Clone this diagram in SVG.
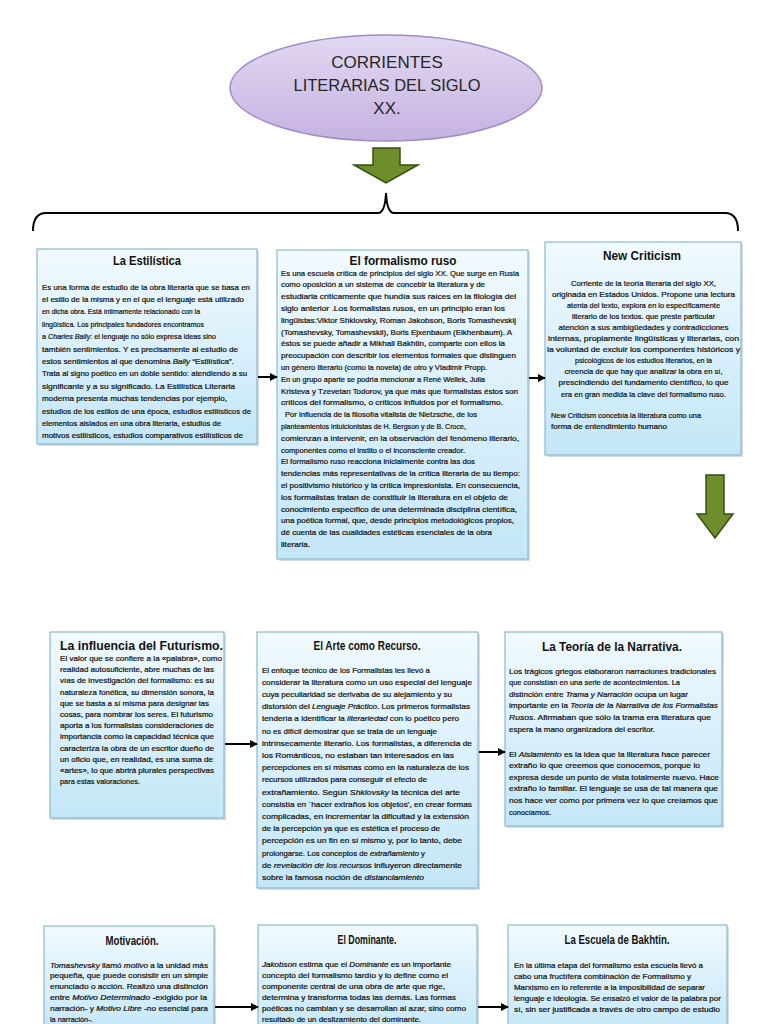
<svg xmlns="http://www.w3.org/2000/svg" width="768" height="1024" viewBox="0 0 768 1024">
<defs>
<linearGradient id="bg" x1="0" y1="0" x2="0" y2="1">
<stop offset="0" stop-color="#f1fafe"/>
<stop offset="1" stop-color="#c3e6f7"/>
</linearGradient>
<linearGradient id="eg" x1="0" y1="0" x2="0" y2="1">
<stop offset="0" stop-color="#e2d8f2"/>
<stop offset="1" stop-color="#c5b2e0"/>
</linearGradient>
<marker id="ah" viewBox="0 0 10 10" refX="9" refY="5" markerWidth="4" markerHeight="4" orient="auto">
<path d="M0,0 L10,5 L0,10 z" fill="#000"/>
</marker>
</defs>
<style>
.box{fill:url(#bg);stroke:#8db9cf;stroke-width:1.2}
.sh{fill:#b9c6cc;opacity:0.6}
.t{font-family:"Liberation Sans",Arial,sans-serif;font-weight:bold;fill:#111;font-size:12px}
.tm{text-anchor:middle}
.b{font-family:"Liberation Sans",Arial,sans-serif;font-size:7.3px;fill:#111;stroke:#111;stroke-width:0.2}
.c{text-anchor:middle}
.i{font-style:italic}
.con{stroke:#000;stroke-width:2;fill:none;marker-end:url(#ah)}
.ga{fill:#6e8e2b;stroke:#3a4c14;stroke-width:1.5}
.et{font-family:"Liberation Sans",Arial,sans-serif;font-size:17px;fill:#262626;text-anchor:middle}
</style>
<rect width="768" height="1024" fill="#fff"/>

<g id="title">
<ellipse cx="386" cy="88" rx="156" ry="53" fill="url(#eg)" stroke="#9f8cc6" stroke-width="1.5"/>
<text class="et" x="387" y="68">CORRIENTES</text>
<text class="et" x="387" y="91" textLength="187" lengthAdjust="spacingAndGlyphs">LITERARIAS DEL SIGLO</text>
<text class="et" x="387" y="114">XX.</text>
</g>

<g id="arrow-top">
<path class="ga" d="M373,148 L400,148 L400,165 L418,165 L386,183 L354,165 L373,165 z"/>
</g>

<g id="brace">
<path d="M33,231 Q33,213 46,213 L378,213 Q385,213 386,193 Q387,213 394,213 L725,213 Q738,213 738,231" fill="none" stroke="#000" stroke-width="2"/>
</g>

<g id="estilistica">
<rect class="sh" x="39" y="251" width="220" height="195"/>
<rect class="box" x="37" y="249" width="220" height="195"/>
<text class="t tm" x="147" y="265" textLength="68" lengthAdjust="spacingAndGlyphs">La Estilística</text>
<text class="b" x="42" y="289.5" textLength="208" lengthAdjust="spacingAndGlyphs">Es una forma de estudio de la obra literaria que se basa en</text>
<text class="b" x="42" y="301.9" textLength="202" lengthAdjust="spacingAndGlyphs">el estilo de la misma y en el que el lenguaje está utilizado</text>
<text class="b" x="42" y="314.3" textLength="158" lengthAdjust="spacingAndGlyphs">en dicha obra. Está íntimamente relacionado con la</text>
<text class="b" x="42" y="326.7" textLength="162" lengthAdjust="spacingAndGlyphs">lingüística. Los principales fundadores encontramos</text>
<text class="b" x="42" y="339.1" textLength="174" lengthAdjust="spacingAndGlyphs">a <tspan class="i">Charles Bally</tspan>: el lenguaje no sólo expresa ideas sino</text>
<text class="b" x="42" y="351.5" textLength="196" lengthAdjust="spacingAndGlyphs">también sentimientos. Y es precisamente al estudio de</text>
<text class="b" x="42" y="363.9" textLength="192" lengthAdjust="spacingAndGlyphs">estos sentimientos al que denomina <tspan class="i">Bally</tspan> “Estilística”.</text>
<text class="b" x="42" y="376.3" textLength="205" lengthAdjust="spacingAndGlyphs">Trata al signo poético en un doble sentido: atendiendo a su</text>
<text class="b" x="42" y="388.7" textLength="193" lengthAdjust="spacingAndGlyphs">significante y a su significado. La Estilística Literaria</text>
<text class="b" x="42" y="401.1" textLength="185" lengthAdjust="spacingAndGlyphs">moderna presenta muchas tendencias por ejemplo,</text>
<text class="b" x="42" y="413.5" textLength="209" lengthAdjust="spacingAndGlyphs">estudios de los estilos de una época, estudios estilísticos de</text>
<text class="b" x="42" y="425.9" textLength="179" lengthAdjust="spacingAndGlyphs">elementos aislados en una obra literaria, estudios de</text>
<text class="b" x="42" y="438.3" textLength="201" lengthAdjust="spacingAndGlyphs">motivos estilísticos, estudios comparativos estilísticos de</text>
</g>

<g id="formalismo">
<rect class="sh" x="279" y="252" width="251" height="309"/>
<rect class="box" x="277" y="250" width="251" height="309"/>
<text class="t tm" x="403" y="265" textLength="107" lengthAdjust="spacingAndGlyphs">El formalismo ruso</text>
<text class="b" x="281" y="275.5" textLength="238" lengthAdjust="spacingAndGlyphs">Es una escuela crítica de principios del siglo XX. Que surge en Rusia</text>
<text class="b" x="281" y="287.3" textLength="204" lengthAdjust="spacingAndGlyphs">como oposición a un sistema de concebir la literatura y de</text>
<text class="b" x="281" y="299.1" textLength="235" lengthAdjust="spacingAndGlyphs">estudiarla críticamente que hundía sus raíces en la filología del</text>
<text class="b" x="281" y="310.9" textLength="224" lengthAdjust="spacingAndGlyphs">siglo anterior .Los formalistas rusos, en un principio eran los</text>
<text class="b" x="281" y="322.7" textLength="235" lengthAdjust="spacingAndGlyphs">lingüistas:Viktor Shklovsky, Roman Jakobson, Boris Tomashevskij</text>
<text class="b" x="281" y="334.5" textLength="231" lengthAdjust="spacingAndGlyphs">(Tomashevsky, Tomashevskii), Boris Ejxenbaum (Eikhenbaum). A</text>
<text class="b" x="281" y="346.3" textLength="224" lengthAdjust="spacingAndGlyphs">éstos se puede añadir a Mikhail Bakhtin, comparte con ellos la</text>
<text class="b" x="281" y="358.1" textLength="235" lengthAdjust="spacingAndGlyphs">preocupación con describir los elementos formales que distinguen</text>
<text class="b" x="281" y="369.9" textLength="206" lengthAdjust="spacingAndGlyphs">un género literario (como la novela) de otro y Vladimir Propp.</text>
<text class="b" x="281" y="381.7" textLength="204" lengthAdjust="spacingAndGlyphs">En un grupo aparte se podría mencionar a René Wellek, Julia</text>
<text class="b" x="281" y="393.5" textLength="237" lengthAdjust="spacingAndGlyphs">Kristeva y Tzevetan Todorov, ya que más que formalistas éstos son</text>
<text class="b" x="281" y="405.3" textLength="222" lengthAdjust="spacingAndGlyphs">críticos del formalismo, o críticos influidos por el formalismo.</text>
<text class="b" x="285" y="417.1" textLength="192" lengthAdjust="spacingAndGlyphs">Por influencia de la filosofía vitalista de Nietzsche, de los</text>
<text class="b" x="281" y="428.9" textLength="185" lengthAdjust="spacingAndGlyphs">planteamientos intuicionistas de H. Bergson y de B. Croce,</text>
<text class="b" x="281" y="440.7" textLength="238" lengthAdjust="spacingAndGlyphs">comienzan a intervenir, en la observación del fenómeno literario,</text>
<text class="b" x="281" y="452.5" textLength="184" lengthAdjust="spacingAndGlyphs">componentes como el instito o el inconsciente creador.</text>
<text class="b" x="281" y="464.3" textLength="194" lengthAdjust="spacingAndGlyphs">El formalismo ruso reacciona inicialmente contra las dos</text>
<text class="b" x="281" y="476.1" textLength="239" lengthAdjust="spacingAndGlyphs">tendencias más representativas de la crítica literaria de su tiempo:</text>
<text class="b" x="281" y="487.9" textLength="239" lengthAdjust="spacingAndGlyphs">el positivismo histórico y la crítica impresionista. En consecuencia,</text>
<text class="b" x="281" y="499.7" textLength="227" lengthAdjust="spacingAndGlyphs">los formalistas tratan de constituir la literatura en el objeto de</text>
<text class="b" x="281" y="511.5" textLength="236" lengthAdjust="spacingAndGlyphs">conocimiento específico de una determinada disciplina científica,</text>
<text class="b" x="281" y="523.3" textLength="233" lengthAdjust="spacingAndGlyphs">una poética formal, que, desde principios metodológicos propios,</text>
<text class="b" x="281" y="535.1" textLength="211" lengthAdjust="spacingAndGlyphs">dé cuenta de las cualidades estéticas esenciales de la obra</text>
<text class="b" x="281" y="546.9" textLength="29" lengthAdjust="spacingAndGlyphs">literaria.</text>
</g>

<g id="newcriticism">
<rect class="sh" x="547" y="244" width="196" height="213"/>
<rect class="box" x="545" y="242" width="196" height="213"/>
<text class="t tm" x="642" y="260" textLength="78" lengthAdjust="spacingAndGlyphs">New Criticism</text>
<text class="b c" x="643.5" y="286" textLength="145" lengthAdjust="spacingAndGlyphs">Corriente de la teoría literaria del siglo XX,</text>
<text class="b c" x="643.5" y="297.05" textLength="183" lengthAdjust="spacingAndGlyphs">originada en Estados Unidos. Propone una lectura</text>
<text class="b c" x="643.5" y="308.1" textLength="153" lengthAdjust="spacingAndGlyphs">atenta del texto, explora en lo específicamente</text>
<text class="b c" x="643.5" y="319.15" textLength="143" lengthAdjust="spacingAndGlyphs">literario de los textos. que preste particular</text>
<text class="b c" x="643.5" y="330.2" textLength="170" lengthAdjust="spacingAndGlyphs">atención a sus ambigüedades y contradicciones</text>
<text class="b c" x="643.5" y="341.25" textLength="191" lengthAdjust="spacingAndGlyphs">internas, propiamente lingüísticas y literarias, con</text>
<text class="b c" x="643.5" y="352.3" textLength="193" lengthAdjust="spacingAndGlyphs">la voluntad de excluir los componentes históricos y</text>
<text class="b c" x="643.5" y="363.35" textLength="137" lengthAdjust="spacingAndGlyphs">psicológicos de los estudios literarios, en la</text>
<text class="b c" x="643.5" y="374.4" textLength="158" lengthAdjust="spacingAndGlyphs">creencia de que hay que analizar la obra en sí,</text>
<text class="b c" x="643.5" y="385.45" textLength="170" lengthAdjust="spacingAndGlyphs">prescindiendo del fundamento científico, lo que</text>
<text class="b c" x="643.5" y="396.5" textLength="165" lengthAdjust="spacingAndGlyphs">era en gran medida la clave del formalismo ruso.</text>
<text class="b" x="551" y="417.5" textLength="150" lengthAdjust="spacingAndGlyphs">New Criticism concebía la literatura como una</text>
<text class="b" x="551" y="429" textLength="116" lengthAdjust="spacingAndGlyphs">forma de entendimiento humano</text>
</g>

<g id="arrow-right">
<path class="ga" d="M706,475 L724,475 L724,514 L733,514 L715,538 L697,514 L706,514 z"/>
</g>

<g id="futurismo">
<rect class="sh" x="52" y="634" width="174" height="186"/>
<rect class="box" x="50" y="632" width="174" height="186"/>
<text class="t" x="60" y="650" font-size="13" textLength="163" lengthAdjust="spacingAndGlyphs">La influencia del Futurismo.</text>
<text class="b" x="60" y="661" textLength="162" lengthAdjust="spacingAndGlyphs">El valor que se confiere a la «palabra», como</text>
<text class="b" x="60" y="672.2" textLength="154" lengthAdjust="spacingAndGlyphs">realidad autosuficiente, abre muchas de las</text>
<text class="b" x="60" y="683.4" textLength="154" lengthAdjust="spacingAndGlyphs">vías de investigación del formalismo: es su</text>
<text class="b" x="60" y="694.6" textLength="154" lengthAdjust="spacingAndGlyphs">naturaleza fonética, su dimensión sonora, la</text>
<text class="b" x="60" y="705.8" textLength="149" lengthAdjust="spacingAndGlyphs">que se basta a sí misma para designar las</text>
<text class="b" x="60" y="717" textLength="153" lengthAdjust="spacingAndGlyphs">cosas, para nombrar los seres. El futurismo</text>
<text class="b" x="60" y="728.2" textLength="154" lengthAdjust="spacingAndGlyphs">aporta a los formalistas consideraciones de</text>
<text class="b" x="60" y="739.4" textLength="154" lengthAdjust="spacingAndGlyphs">importancia como la capacidad técnica que</text>
<text class="b" x="60" y="750.6" textLength="154" lengthAdjust="spacingAndGlyphs">caracteriza la obra de un escritor dueño de</text>
<text class="b" x="60" y="761.8" textLength="153" lengthAdjust="spacingAndGlyphs">un oficio que, en realidad, es una suma de</text>
<text class="b" x="60" y="773" textLength="154" lengthAdjust="spacingAndGlyphs">«artes», lo que abrirá plurales perspectivas</text>
<text class="b" x="60" y="784.2" textLength="80" lengthAdjust="spacingAndGlyphs">para estas valoraciones.</text>
</g>

<g id="arte">
<rect class="sh" x="259" y="634" width="221" height="256"/>
<rect class="box" x="257" y="632" width="221" height="256"/>
<text class="t tm" x="367" y="650" textLength="107" lengthAdjust="spacingAndGlyphs">El Arte como Recurso.</text>
<text class="b" x="262" y="672.5" textLength="168" lengthAdjust="spacingAndGlyphs">El enfoque técnico de los Formalistas les llevó a</text>
<text class="b" x="262" y="684.7" textLength="210" lengthAdjust="spacingAndGlyphs">considerar la literatura como un uso especial del lenguaje</text>
<text class="b" x="262" y="696.9" textLength="190" lengthAdjust="spacingAndGlyphs">cuya peculiaridad se derivaba de su alejamiento y su</text>
<text class="b" x="262" y="709.1" textLength="208" lengthAdjust="spacingAndGlyphs">distorsión del <tspan class="i">Lenguaje Práctico</tspan>. Los primeros formalistas</text>
<text class="b" x="262" y="721.3" textLength="197" lengthAdjust="spacingAndGlyphs">tendería a identificar la <tspan class="i">literariedad</tspan> con lo poético pero</text>
<text class="b" x="262" y="733.5" textLength="175" lengthAdjust="spacingAndGlyphs">no es difícil demostrar que se trata de un lenguaje</text>
<text class="b" x="262" y="745.7" textLength="210" lengthAdjust="spacingAndGlyphs">intrínsecamente literario. Los formalistas, a diferencia de</text>
<text class="b" x="262" y="757.9" textLength="192" lengthAdjust="spacingAndGlyphs">los Románticos, no estaban tan interesados en las</text>
<text class="b" x="262" y="770.1" textLength="207" lengthAdjust="spacingAndGlyphs">percepciones en sí mismas como en la naturaleza de los</text>
<text class="b" x="262" y="782.3" textLength="165" lengthAdjust="spacingAndGlyphs">recursos utilizados para conseguir el efecto de</text>
<text class="b" x="262" y="794.5" textLength="198" lengthAdjust="spacingAndGlyphs">extrañamiento. Según <tspan class="i">Shklovsky</tspan> la técnica del arte</text>
<text class="b" x="262" y="806.7" textLength="210" lengthAdjust="spacingAndGlyphs">consistía en `hacer extraños los objetos', en crear formas</text>
<text class="b" x="262" y="818.9" textLength="207" lengthAdjust="spacingAndGlyphs">complicadas, en incrementar la dificultad y la extensión</text>
<text class="b" x="262" y="831.1" textLength="178" lengthAdjust="spacingAndGlyphs">de la percepción ya que es estética el proceso de</text>
<text class="b" x="262" y="843.3" textLength="200" lengthAdjust="spacingAndGlyphs">percepción es un fin en sí mismo y, por lo tanto, debe</text>
<text class="b" x="262" y="855.5" textLength="163" lengthAdjust="spacingAndGlyphs">prolongarse. Los conceptos de <tspan class="i">extrañamiento</tspan> y</text>
<text class="b" x="262" y="867.7" textLength="200" lengthAdjust="spacingAndGlyphs">de <tspan class="i">revelación de los recursos</tspan> influyeron directamente</text>
<text class="b" x="262" y="879.9" textLength="162" lengthAdjust="spacingAndGlyphs">sobre la famosa noción de <tspan class="i">distanciamiento</tspan></text>
</g>

<g id="narrativa">
<rect class="sh" x="507" y="634" width="217" height="194"/>
<rect class="box" x="505" y="632" width="217" height="194"/>
<text class="t tm" x="612" y="651" textLength="140" lengthAdjust="spacingAndGlyphs">La Teoría de la Narrativa.</text>
<text class="b" x="509" y="673.5" textLength="207" lengthAdjust="spacingAndGlyphs">Los trágicos griegos elaboraron narraciones tradicionales</text>
<text class="b" x="509" y="685.1" textLength="171" lengthAdjust="spacingAndGlyphs">que consistían en una serie de acontecimientos. La</text>
<text class="b" x="509" y="696.7" textLength="179" lengthAdjust="spacingAndGlyphs">distinción entre <tspan class="i">Trama y Narración</tspan> ocupa un lugar</text>
<text class="b" x="509" y="708.3" textLength="209" lengthAdjust="spacingAndGlyphs">importante en la <tspan class="i">Teoría de la Narrativa de los Formalistas</tspan></text>
<text class="b" x="509" y="719.9" textLength="202" lengthAdjust="spacingAndGlyphs"><tspan class="i">Rusos</tspan>. Afirmaban que sólo la trama era literatura que</text>
<text class="b" x="509" y="731.5" textLength="146" lengthAdjust="spacingAndGlyphs">espera la mano organizadora del escritor.</text>
<text class="b" x="509" y="756.5" textLength="201" lengthAdjust="spacingAndGlyphs">El <tspan class="i">Aislamiento</tspan> es la idea que la literatura hace parecer</text>
<text class="b" x="509" y="768.1" textLength="191" lengthAdjust="spacingAndGlyphs">extraño lo que creemos que conocemos, porque lo</text>
<text class="b" x="509" y="779.7" textLength="210" lengthAdjust="spacingAndGlyphs">expresa desde un punto de vista totalmente nuevo. Hace</text>
<text class="b" x="509" y="791.3" textLength="209" lengthAdjust="spacingAndGlyphs">extraño lo familiar. El lenguaje se usa de tal manera que</text>
<text class="b" x="509" y="802.9" textLength="209" lengthAdjust="spacingAndGlyphs">nos hace ver como por primera vez lo que creíamos que</text>
<text class="b" x="509" y="814.5" textLength="42" lengthAdjust="spacingAndGlyphs">conocíamos.</text>
</g>

<g id="motivacion">
<rect class="sh" x="46" y="928" width="170" height="110"/>
<rect class="box" x="44" y="926" width="170" height="110"/>
<text class="t tm" x="132" y="945" textLength="53" lengthAdjust="spacingAndGlyphs">Motivación.</text>
<text class="b" x="50" y="967.5" textLength="158" lengthAdjust="spacingAndGlyphs"><tspan class="i">Tomashevsky</tspan> llamó <tspan class="i">motivo</tspan> a la unidad más</text>
<text class="b" x="50" y="978.3" textLength="158" lengthAdjust="spacingAndGlyphs">pequeña, que puede consistir en un simple</text>
<text class="b" x="50" y="989.1" textLength="158" lengthAdjust="spacingAndGlyphs">enunciado o acción. Realizó una distinción</text>
<text class="b" x="50" y="999.9" textLength="157" lengthAdjust="spacingAndGlyphs">entre <tspan class="i">Motivo Determinado</tspan> -exigido por la</text>
<text class="b" x="50" y="1010.7" textLength="158" lengthAdjust="spacingAndGlyphs">narración- y <tspan class="i">Motivo Libre</tspan> -no esencial para</text>
<text class="b" x="50" y="1021.5">la narración-.</text>
</g>

<g id="dominante">
<rect class="sh" x="260" y="927" width="219" height="110"/>
<rect class="box" x="258" y="925" width="219" height="110"/>
<text class="t tm" x="367" y="944" textLength="59" lengthAdjust="spacingAndGlyphs">El Dominante.</text>
<text class="b" x="262" y="966.5" textLength="189" lengthAdjust="spacingAndGlyphs"><tspan class="i">Jakobson</tspan> estima que el <tspan class="i">Dominante</tspan> es un importante</text>
<text class="b" x="262" y="977.5" textLength="186" lengthAdjust="spacingAndGlyphs">concepto del formalismo tardío y lo define como el</text>
<text class="b" x="262" y="988.5" textLength="183" lengthAdjust="spacingAndGlyphs">componente central de una obra de arte que rige,</text>
<text class="b" x="262" y="999.5" textLength="194" lengthAdjust="spacingAndGlyphs">determina y transforma todas las demás. Las formas</text>
<text class="b" x="262" y="1010.5" textLength="204" lengthAdjust="spacingAndGlyphs">poéticas no cambian y se desarrollan al azar, sino como</text>
<text class="b" x="262" y="1021.5" textLength="159" lengthAdjust="spacingAndGlyphs">resultado de un deslizamiento del dominante.</text>
</g>

<g id="bakhtin">
<rect class="sh" x="510" y="927" width="219" height="110"/>
<rect class="box" x="508" y="925" width="219" height="110"/>
<text class="t tm" x="617" y="944" textLength="105" lengthAdjust="spacingAndGlyphs">La Escuela de Bakhtin.</text>
<text class="b" x="514" y="967.5" textLength="189" lengthAdjust="spacingAndGlyphs">En la última etapa del formalismo esta escuela llevó a</text>
<text class="b" x="514" y="978.5" textLength="177" lengthAdjust="spacingAndGlyphs">cabo una fructífera combinación de Formalismo y</text>
<text class="b" x="514" y="989.5" textLength="191" lengthAdjust="spacingAndGlyphs">Marxismo en lo referente a la imposibilidad de separar</text>
<text class="b" x="514" y="1000.5" textLength="207" lengthAdjust="spacingAndGlyphs">lenguaje e ideología. Se ensalzó el valor de la palabra por</text>
<text class="b" x="514" y="1011.5" textLength="206" lengthAdjust="spacingAndGlyphs">sí, sin ser justificada a través de otro campo de estudio</text>
</g>

<g id="connectors">
<line class="con" x1="258" y1="377" x2="277" y2="377"/>
<line class="con" x1="529" y1="378" x2="545" y2="378"/>
<line class="con" x1="225" y1="744" x2="257" y2="744"/>
<line class="con" x1="479" y1="752" x2="505" y2="752"/>
<line class="con" x1="215" y1="1007" x2="258" y2="1007"/>
<line class="con" x1="478" y1="1007" x2="508" y2="1007"/>
</g>
</svg>
